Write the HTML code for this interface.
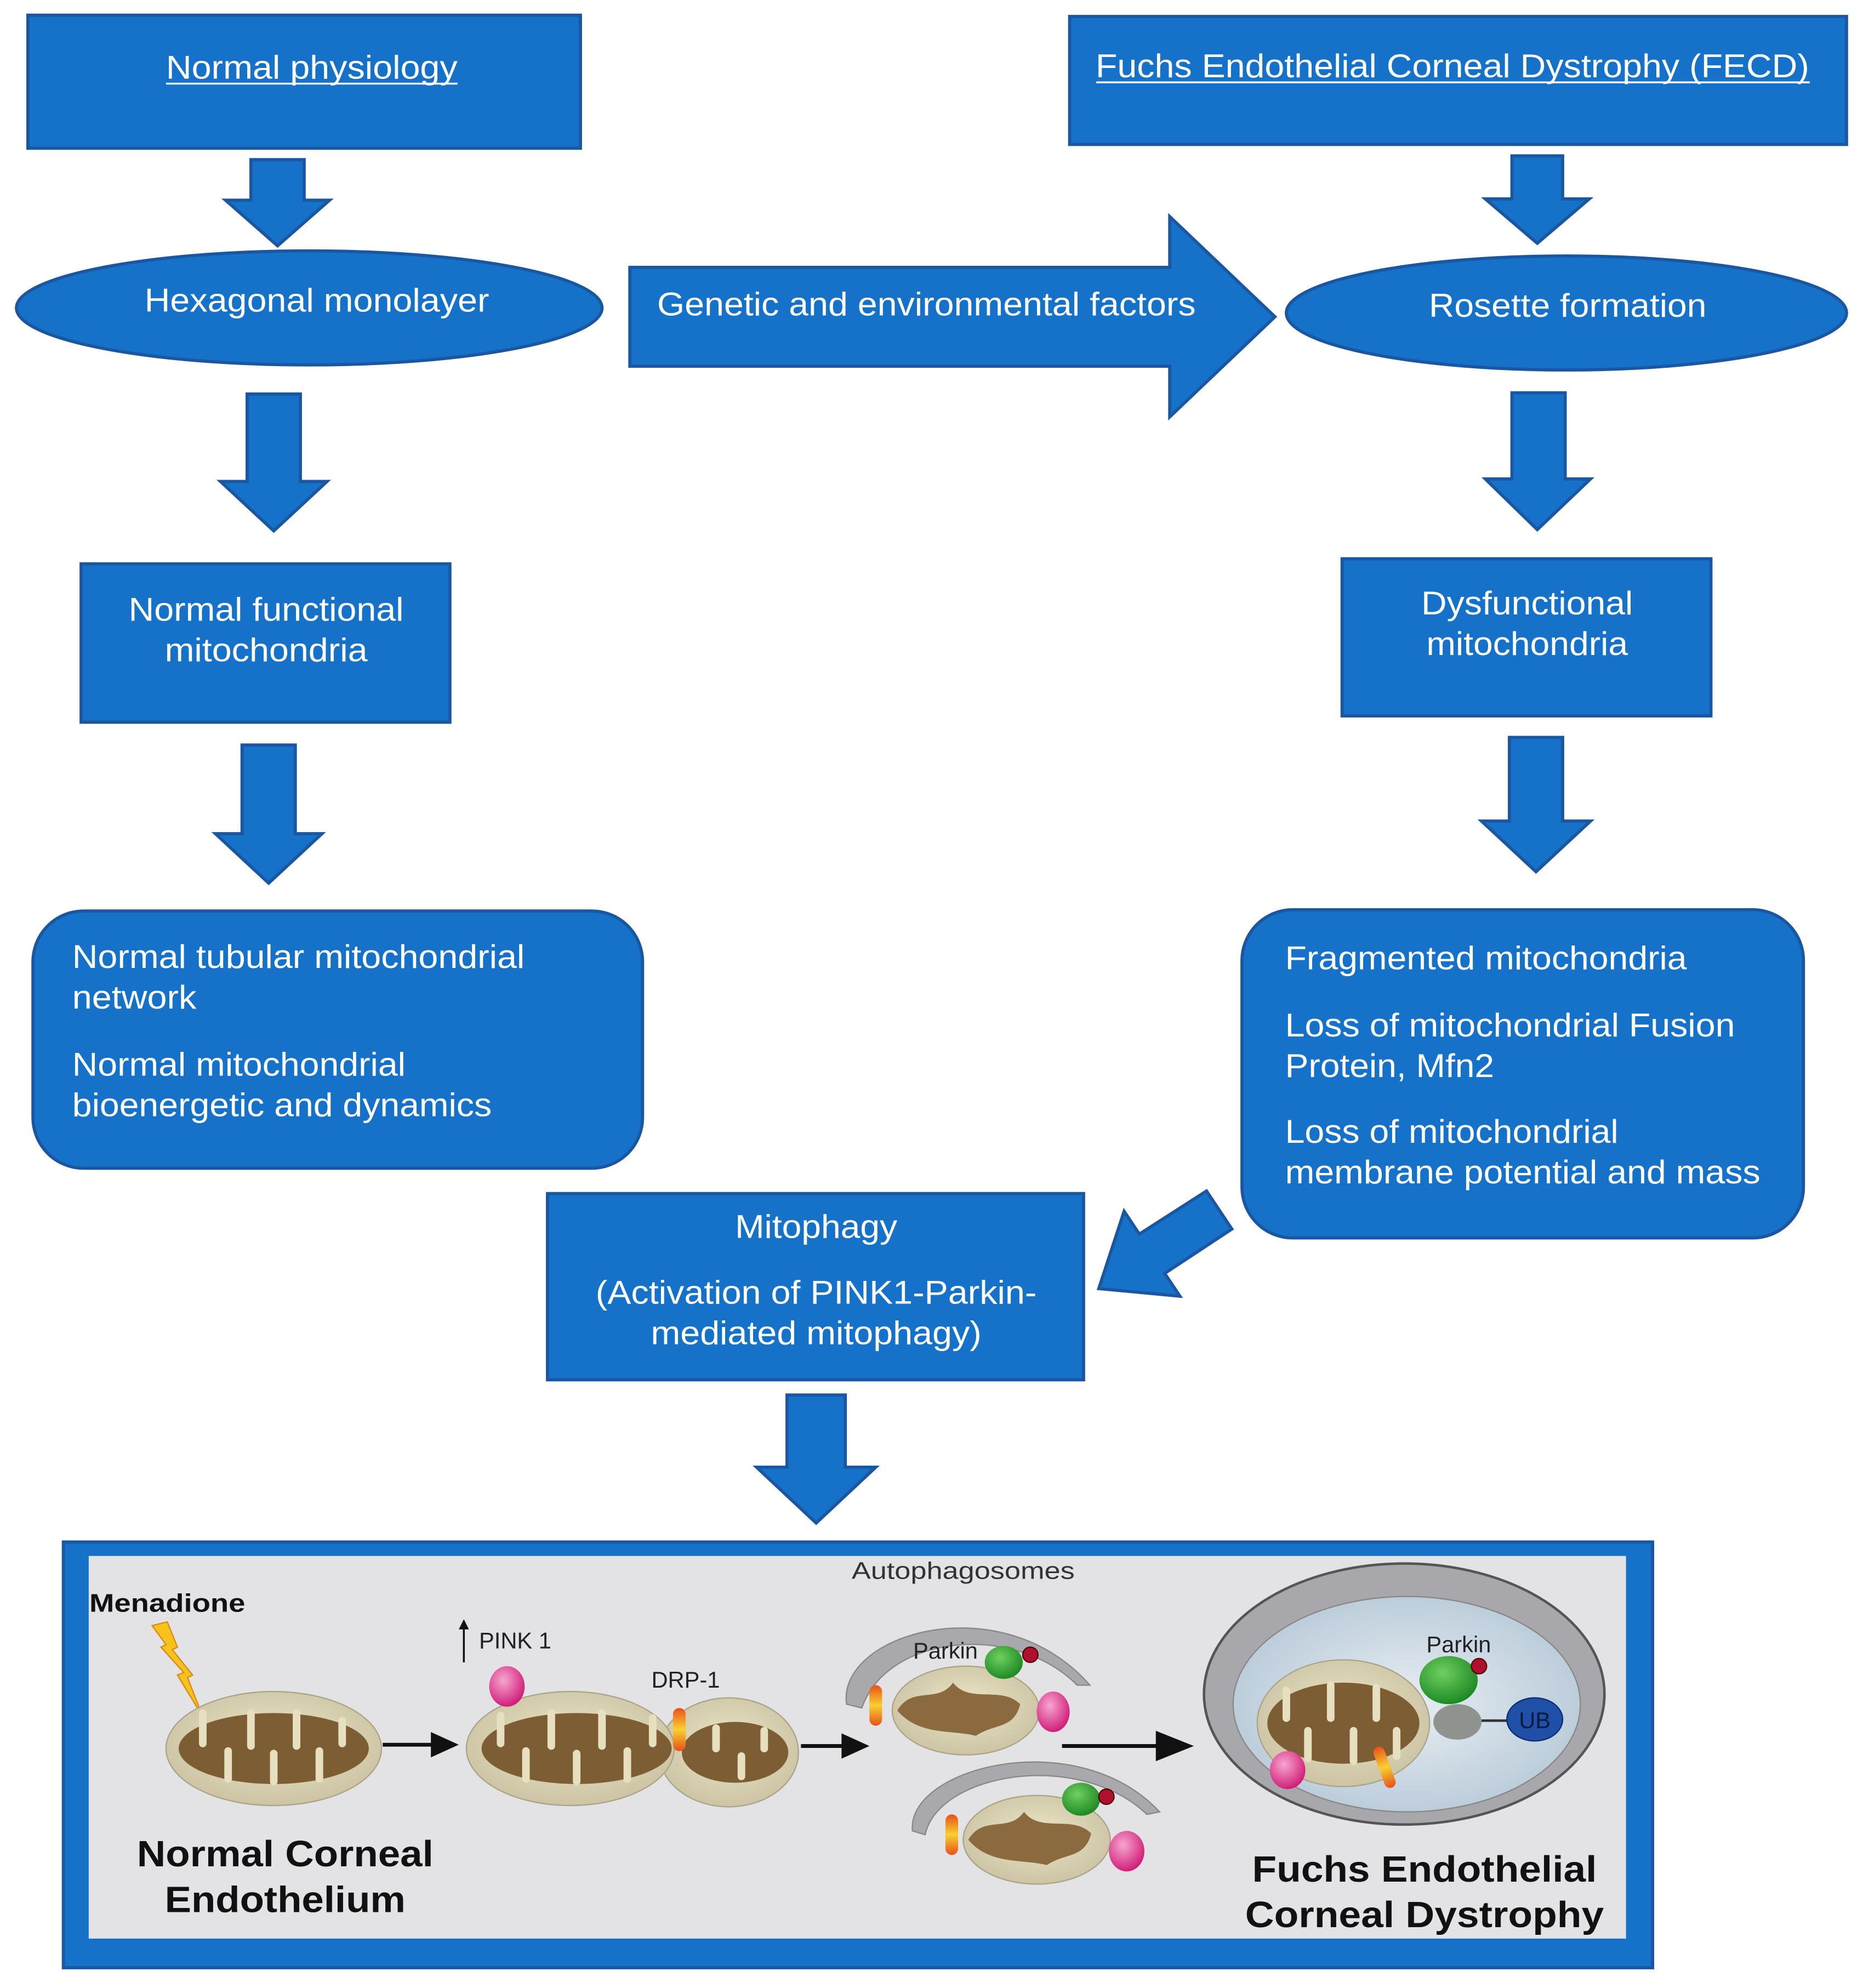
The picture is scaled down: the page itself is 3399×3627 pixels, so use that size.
<!DOCTYPE html>
<html><head><meta charset="utf-8"><style>
html,body{margin:0;padding:0;background:#fff}
svg{display:block}
text{font-family:"Liberation Sans",Arial,sans-serif}
</style></head><body>
<svg width="3399" height="3627" viewBox="0 0 1470 1569" preserveAspectRatio="none" xmlns="http://www.w3.org/2000/svg">
<defs>
<radialGradient id="mem" cx="50%" cy="45%" r="60%"><stop offset="0" stop-color="#ece6c8"/><stop offset="1" stop-color="#c9c1a0"/></radialGradient>
<radialGradient id="pk" cx="40%" cy="35%" r="65%"><stop offset="0" stop-color="#f7a6d0"/><stop offset="1" stop-color="#d0207a"/></radialGradient>
<radialGradient id="gr" cx="40%" cy="35%" r="65%"><stop offset="0" stop-color="#6fd060"/><stop offset="1" stop-color="#1f8a25"/></radialGradient>
<linearGradient id="or" x1="0" y1="0" x2="0" y2="1"><stop offset="0" stop-color="#e8501a"/><stop offset=".5" stop-color="#f8d030"/><stop offset="1" stop-color="#e8501a"/></linearGradient>
<radialGradient id="vac" cx="50%" cy="50%" r="55%"><stop offset="0" stop-color="#e8eef4"/><stop offset="1" stop-color="#b8cad8"/></radialGradient>
</defs>
<g fill="#1672c9" stroke="#1a57a0" stroke-width="2.5">
<rect x="22" y="12" width="436" height="105"/>
<rect x="844" y="13" width="613" height="101"/>
<polygon points="198,126 240,126 240,158 260,158 219,194 178,158 198,158"/>
<polygon points="1193,123 1233,123 1233,157 1254,157 1213,192 1172,157 1193,157"/>
<ellipse cx="244" cy="243" rx="231" ry="45"/>
<polygon points="497,211 923,211 923,171 1006,250 923,329 923,289 497,289"/>
<ellipse cx="1236" cy="247" rx="221" ry="45"/>
<polygon points="195,311 237,311 237,380 258,380 216,419 174,380 195,380"/>
<rect x="64" y="445" width="291" height="125"/>
<polygon points="1193,310 1235,310 1235,378 1255,378 1213,418 1172,378 1193,378"/>
<rect x="1059" y="441" width="291" height="124"/>
<polygon points="191,588 233,588 233,658 254,658 212,697 170,658 191,658"/>
<polygon points="1191,582 1233,582 1233,648 1255,648 1212,688 1169,648 1191,648"/>
<rect x="26" y="719" width="481" height="203" rx="40"/>
<rect x="980" y="718" width="443" height="259" rx="40"/>
<polygon points="972,970 952,940 899,974 887,956 867,1017 931,1023 919,1005"/>
<rect x="432" y="942" width="423" height="147"/>
<polygon points="621,1101 667,1101 667,1158 691,1158 644,1202 597,1158 621,1158"/>
<rect x="50" y="1217" width="1254" height="336"/>
</g>
<rect x="70" y="1228" width="1213" height="302" fill="#e3e3e6"/>
<g fill="#fff" font-size="26" text-anchor="middle" lengthAdjust="spacingAndGlyphs">
<text x="246" y="62" textLength="230" lengthAdjust="spacingAndGlyphs">Normal physiology</text>
<text x="1146" y="61" textLength="563" lengthAdjust="spacingAndGlyphs">Fuchs Endothelial Corneal Dystrophy (FECD)</text>
<text x="250" y="246" textLength="272" lengthAdjust="spacingAndGlyphs">Hexagonal monolayer</text>
<text x="731" y="249" textLength="425" lengthAdjust="spacingAndGlyphs">Genetic and environmental factors</text>
<text x="1237" y="250" textLength="219" lengthAdjust="spacingAndGlyphs">Rosette formation</text>
<text x="210" y="490" textLength="217" lengthAdjust="spacingAndGlyphs">Normal functional</text>
<text x="210" y="522" textLength="160" lengthAdjust="spacingAndGlyphs">mitochondria</text>
<text x="1205" y="485" textLength="167" lengthAdjust="spacingAndGlyphs">Dysfunctional</text>
<text x="1205" y="517" textLength="159" lengthAdjust="spacingAndGlyphs">mitochondria</text>
<text x="644" y="977" textLength="128" lengthAdjust="spacingAndGlyphs">Mitophagy</text>
<text x="644" y="1029" textLength="348" lengthAdjust="spacingAndGlyphs">(Activation of PINK1-Parkin-</text>
<text x="644" y="1061" textLength="261" lengthAdjust="spacingAndGlyphs">mediated mitophagy)</text>
</g>
<line x1="131" y1="66" x2="361" y2="66" stroke="#fff" stroke-width="1.5"/>
<line x1="865" y1="65" x2="1428" y2="65" stroke="#fff" stroke-width="1.5"/>
<g fill="#fff" font-size="26">
<text x="57" y="764" textLength="357" lengthAdjust="spacingAndGlyphs">Normal tubular mitochondrial</text>
<text x="57" y="796" textLength="98" lengthAdjust="spacingAndGlyphs">network</text>
<text x="57" y="849" textLength="263" lengthAdjust="spacingAndGlyphs">Normal mitochondrial</text>
<text x="57" y="881" textLength="331" lengthAdjust="spacingAndGlyphs">bioenergetic and dynamics</text>
<text x="1014" y="765" textLength="317" lengthAdjust="spacingAndGlyphs">Fragmented mitochondria</text>
<text x="1014" y="818" textLength="355" lengthAdjust="spacingAndGlyphs">Loss of mitochondrial Fusion</text>
<text x="1014" y="850" textLength="165" lengthAdjust="spacingAndGlyphs">Protein, Mfn2</text>
<text x="1014" y="902" textLength="263" lengthAdjust="spacingAndGlyphs">Loss of mitochondrial</text>
<text x="1014" y="934" textLength="375" lengthAdjust="spacingAndGlyphs">membrane potential and mass</text>
</g>
<g>
<text x="760" y="1246" font-size="19" text-anchor="middle" fill="#333" textLength="176" lengthAdjust="spacingAndGlyphs">Autophagosomes</text>
<text x="132" y="1272" font-size="20" font-weight="bold" text-anchor="middle" fill="#111" textLength="123" lengthAdjust="spacingAndGlyphs">Menadione</text>
<polygon points="120,1283 132,1280 140,1300 136,1302 152,1322 148,1324 160,1355 140,1322 145,1320 127,1300 131,1298" fill="#f7c21b" stroke="#d98a10" stroke-width="1"/>
<ellipse cx="216" cy="1380" rx="85" ry="45" fill="url(#mem)" stroke="#aaa58a"/>
<ellipse cx="216" cy="1380" rx="75" ry="28" fill="#7d5d33"/>
<g stroke="#e6dfc0" stroke-width="6" stroke-linecap="round">
<line x1="160" y1="1352" x2="160" y2="1376"/><line x1="180" y1="1404" x2="180" y2="1382"/><line x1="198" y1="1352" x2="198" y2="1378"/><line x1="216" y1="1406" x2="216" y2="1384"/><line x1="234" y1="1352" x2="234" y2="1378"/><line x1="252" y1="1404" x2="252" y2="1382"/><line x1="270" y1="1358" x2="270" y2="1376"/>
</g>
<path d="M302,1377 H345" stroke="#111" stroke-width="3"/><polygon points="340,1367 362,1377 340,1387" fill="#111"/>
<ellipse cx="575" cy="1383" rx="55" ry="43" fill="url(#mem)" stroke="#aaa58a"/>
<ellipse cx="580" cy="1383" rx="42" ry="24" fill="#7d5d33"/>
<ellipse cx="450" cy="1380" rx="82" ry="45" fill="url(#mem)" stroke="#aaa58a"/>
<ellipse cx="455" cy="1380" rx="75" ry="28" fill="#7d5d33"/>
<g stroke="#e6dfc0" stroke-width="6" stroke-linecap="round">
<line x1="395" y1="1354" x2="395" y2="1376"/><line x1="415" y1="1404" x2="415" y2="1382"/><line x1="435" y1="1352" x2="435" y2="1378"/><line x1="455" y1="1406" x2="455" y2="1384"/><line x1="475" y1="1352" x2="475" y2="1378"/><line x1="495" y1="1404" x2="495" y2="1382"/><line x1="515" y1="1356" x2="515" y2="1376"/>
<line x1="565" y1="1364" x2="565" y2="1380"/><line x1="585" y1="1402" x2="585" y2="1386"/><line x1="603" y1="1366" x2="603" y2="1380"/>
</g>
<rect x="531" y="1348" width="10" height="34" rx="5" fill="url(#or)"/>
<ellipse cx="400" cy="1331" rx="14" ry="16" fill="url(#pk)"/>
<path d="M366,1312 V1282" stroke="#111" stroke-width="1.5"/><polygon points="362,1286 366,1278 370,1286" fill="#111"/>
<text x="378" y="1301" font-size="18" fill="#222">PINK 1</text>
<text x="541" y="1332" font-size="18" text-anchor="middle" fill="#222">DRP-1</text>
<path d="M632,1378 H668" stroke="#111" stroke-width="3"/><polygon points="664,1368 686,1378 664,1388" fill="#111"/>
<path d="M668,1345 C660,1290 790,1250 860,1330 L850,1330 C800,1280 700,1290 680,1348 Z" fill="#a9a9ad" stroke="#888"/>
<ellipse cx="762" cy="1350" rx="58" ry="35" fill="url(#mem)" stroke="#aaa58a"/>
<path d="M708,1350 C720,1330 740,1345 752,1328 C765,1345 790,1330 805,1345 C800,1365 785,1360 770,1370 C750,1365 725,1370 708,1350Z" fill="#8a6a3e"/>
<rect x="686" y="1330" width="10" height="32" rx="5" fill="url(#or)"/>
<ellipse cx="792" cy="1312" rx="15" ry="13" fill="url(#gr)"/>
<circle cx="813" cy="1306" r="6" fill="#b01030" stroke="#500" stroke-width="1"/>
<ellipse cx="831" cy="1351" rx="13" ry="16" fill="url(#pk)"/>
<text x="746" y="1309" font-size="18" text-anchor="middle" fill="#222">Parkin</text>
<path d="M720,1445 C715,1395 850,1360 915,1430 L905,1432 C850,1380 740,1400 730,1448 Z" fill="#a9a9ad" stroke="#888"/>
<ellipse cx="818" cy="1452" rx="58" ry="35" fill="url(#mem)" stroke="#aaa58a"/>
<path d="M764,1452 C776,1432 796,1447 808,1430 C821,1447 846,1432 861,1447 C856,1467 841,1462 826,1472 C806,1467 781,1472 764,1452Z" fill="#8a6a3e"/>
<rect x="746" y="1432" width="10" height="32" rx="5" fill="url(#or)"/>
<ellipse cx="853" cy="1420" rx="15" ry="13" fill="url(#gr)"/>
<circle cx="873" cy="1418" r="6" fill="#b01030" stroke="#500" stroke-width="1"/>
<ellipse cx="889" cy="1461" rx="14" ry="16" fill="url(#pk)"/>
<path d="M838,1378 H920" stroke="#111" stroke-width="3"/><polygon points="912,1366 942,1378 912,1390" fill="#111"/>
<ellipse cx="1108" cy="1337" rx="158" ry="103" fill="#a8a8ac" stroke="#555" stroke-width="2"/>
<ellipse cx="1110" cy="1345" rx="137" ry="85" fill="url(#vac)" stroke="#888"/>
<ellipse cx="1060" cy="1360" rx="68" ry="50" fill="url(#mem)" stroke="#aaa58a"/>
<ellipse cx="1060" cy="1360" rx="60" ry="32" fill="#7d5d33"/>
<g stroke="#e6dfc0" stroke-width="6" stroke-linecap="round">
<line x1="1015" y1="1334" x2="1015" y2="1356"/><line x1="1032" y1="1388" x2="1032" y2="1366"/><line x1="1050" y1="1330" x2="1050" y2="1356"/><line x1="1068" y1="1390" x2="1068" y2="1366"/><line x1="1086" y1="1332" x2="1086" y2="1356"/><line x1="1102" y1="1386" x2="1102" y2="1366"/>
</g>
<ellipse cx="1143" cy="1326" rx="23" ry="19" fill="url(#gr)"/>
<circle cx="1167" cy="1315" r="6" fill="#b01030" stroke="#500" stroke-width="1"/>
<ellipse cx="1150" cy="1359" rx="19" ry="14" fill="#8e938e"/>
<line x1="1169" y1="1358" x2="1192" y2="1358" stroke="#333" stroke-width="2"/>
<ellipse cx="1211" cy="1357" rx="22" ry="17" fill="#1f4fa6" stroke="#0c2d70"/>
<text x="1211" y="1364" font-size="18" text-anchor="middle" fill="#0a1a40">UB</text>
<ellipse cx="1016" cy="1397" rx="14" ry="15" fill="url(#pk)"/>
<rect x="1088" y="1378" width="9" height="34" rx="4.5" fill="url(#or)" transform="rotate(-20 1092 1395)"/>
<text x="1151" y="1304" font-size="18" text-anchor="middle" fill="#222">Parkin</text>
<g font-size="29" font-weight="bold" text-anchor="middle" fill="#111">
<text x="225" y="1473" textLength="234" lengthAdjust="spacingAndGlyphs">Normal Corneal</text>
<text x="225" y="1509" textLength="190" lengthAdjust="spacingAndGlyphs">Endothelium</text>
<text x="1124" y="1485" textLength="272" lengthAdjust="spacingAndGlyphs">Fuchs Endothelial</text>
<text x="1124" y="1521" textLength="283" lengthAdjust="spacingAndGlyphs">Corneal Dystrophy</text>
</g>
</g>
</svg>
</body></html>
